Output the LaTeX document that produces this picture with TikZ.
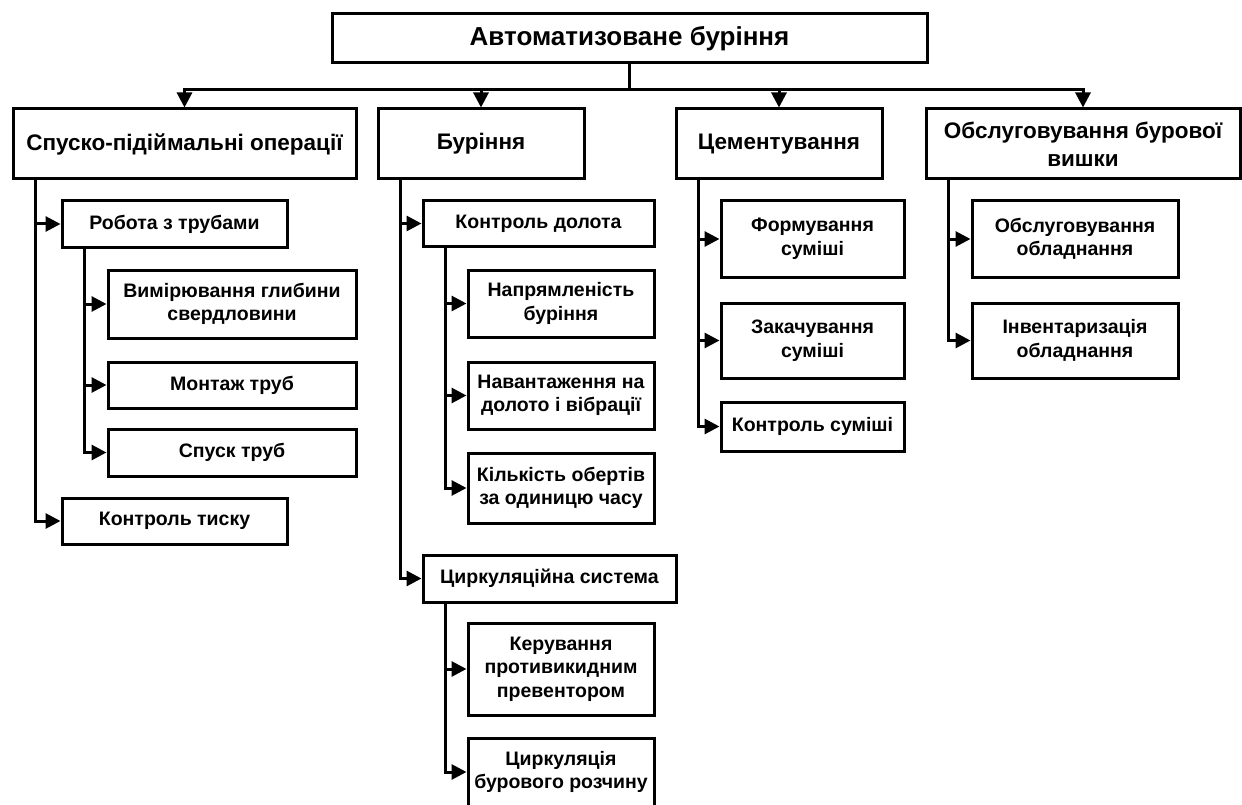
\documentclass[tikz,border=0pt]{standalone}
\usepackage{fontspec}
\setmainfont{Liberation Sans}
\usetikzlibrary{shapes,arrows.meta,positioning}

\begin{document}
\begin{tikzpicture}[
    x=1pt, y=-1pt,
    box/.style={rectangle, draw, line width=3pt, align=center, inner sep=0pt, font=\bfseries},
    boxsize/.style 2 args={minimum width=#1pt, minimum height=#2pt},
    title/.style={box, font=\fontsize{26}{31}\selectfont\bfseries},
    group/.style={box, font=\fontsize{22.5}{27.5}\selectfont\bfseries},
    item/.style={box, font=\fontsize{19.5}{23.5}\selectfont\bfseries},
    arrow/.style={draw, line width=3pt, -{Triangle[length=15pt,width=15pt]}}]

    \useasboundingbox (0,0) rectangle (1242,805);

    % Root node
    \node [title, boxsize={595}{49}] (root) at (629.5,38.5) {Автоматизоване буріння};

    % First level
    \node [group, boxsize={343}{70}] (spo) at (184.5,144) {Спуско-підіймальні операції};
    \node [group, boxsize={206}{70}] (bur) at (481,144) {Буріння};
    \node [group, boxsize={206}{70}] (cem) at (779,144) {Цементування};
    \node [group, boxsize={314}{70}] (vyshka) at (1083,144) {Обслуговування бурової\\вишки};

    % Under spo
    \node [item, boxsize={225}{46}] (truby) at (174.5,224) {Робота з трубами};
    \node [item, boxsize={248}{68}] (glyb) at (232,304) {Вимірювання глибини\\свердловини};
    \node [item, boxsize={248}{46}] (montazh) at (232,385) {Монтаж труб};
    \node [item, boxsize={248}{47}] (spusk) at (232,452.5) {Спуск труб};
    \node [item, boxsize={225}{46}] (tysk) at (174.5,521) {Контроль тиску};

    % Under bur
    \node [item, boxsize={231}{46}] (doloto) at (538.5,223.5) {Контроль долота};
    \node [item, boxsize={186}{67}] (napr) at (561,303.5) {Напрямленість\\буріння};
    \node [item, boxsize={186}{67}] (navant) at (561,395.5) {Навантаження на\\долото і вібрації};
    \node [item, boxsize={186}{70}] (oberty) at (561,488) {Кількість обертів\\за одиницю часу};
    \node [item, boxsize={253}{47}] (cyrk) at (549.5,578.5) {Циркуляційна система};
    \node [item, boxsize={186}{92}] (preventor) at (561,669) {Керування\\противикидним\\превентором};
    \node [item, boxsize={186}{68}] (rozchyn) at (561,772) {Циркуляція\\бурового розчину};

    % Under cem
    \node [item, boxsize={183}{76}] (form) at (812.5,239) {Формування\\суміші};
    \node [item, boxsize={183}{75}] (zakach) at (812.5,340.5) {Закачування\\суміші};
    \node [item, boxsize={183}{49}] (sumish) at (812.5,426.5) {Контроль суміші};

    % Under vyshka
    \node [item, boxsize={206}{76}] (obsl) at (1075,239) {Обслуговування\\обладнання};
    \node [item, boxsize={206}{75}] (inv) at (1075,340.5) {Інвентаризація\\обладнання};

    % Root to first level
    \foreach \n in {spo,bur,cem,vyshka}
        \draw [arrow] (root.south) -- ++(0,25) -| (\n.north);

    % Parents to children
    \foreach \p/\c in {spo/truby, spo/tysk, truby/glyb, truby/montazh, truby/spusk,
                       bur/doloto, bur/cyrk, doloto/napr, doloto/navant, doloto/oberty,
                       cyrk/preventor, cyrk/rozchyn,
                       cem/form, cem/zakach, cem/sumish, vyshka/obsl, vyshka/inv}
        \draw [arrow] ([xshift=24pt]\p.south west) |- (\c.west);
\end{tikzpicture}
\end{document}
